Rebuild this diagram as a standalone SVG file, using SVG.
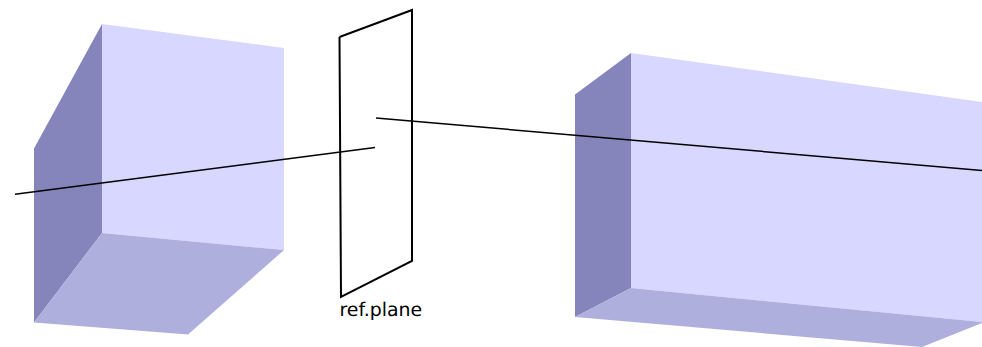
<svg xmlns="http://www.w3.org/2000/svg" width="982" height="347" viewBox="0 0 982 347">
<style>
.front{fill:#d7d7ff}
.side{fill:#8585bc}
.bottom{fill:#afafdd}
.ray{fill:none;stroke:#000;stroke-width:1.5}
.plane{fill:none;stroke:#000;stroke-width:2}
text{font-family:"DejaVu Sans",sans-serif;font-size:18.9px;fill:#000;text-rendering:geometricPrecision}
</style>
<rect width="982" height="347" fill="#fff"/>
<g id="box-left">
<polygon class="side" points="34,148.500 102,24 102,233 34,322.500"/>
<polygon class="front" points="102,24 284,48 284,250 102,233"/>
<polygon class="bottom" points="102,233 284,250 188,334.500 34,322.500"/>
</g>
<g id="box-right">
<polygon class="side" points="575,94.500 631,53 631,288 575,317"/>
<polygon class="front" points="631,53 982,102 982,322 631,288"/>
<polygon class="bottom" points="631,288 982,322 982,323 922,347 575,317"/>
</g>
<g id="ref-plane">
<path class="plane" d="M339.500 37 L412 10 L412 261 L341 297 L339.500 37"/>
<text x="339.500" y="316">ref.plane</text>
</g>
<g id="connectors">
<line class="ray" x1="15" y1="194.300" x2="375" y2="147.500"/>
<line class="ray" x1="376" y1="118" x2="982" y2="170.500"/>
</g>
</svg>
